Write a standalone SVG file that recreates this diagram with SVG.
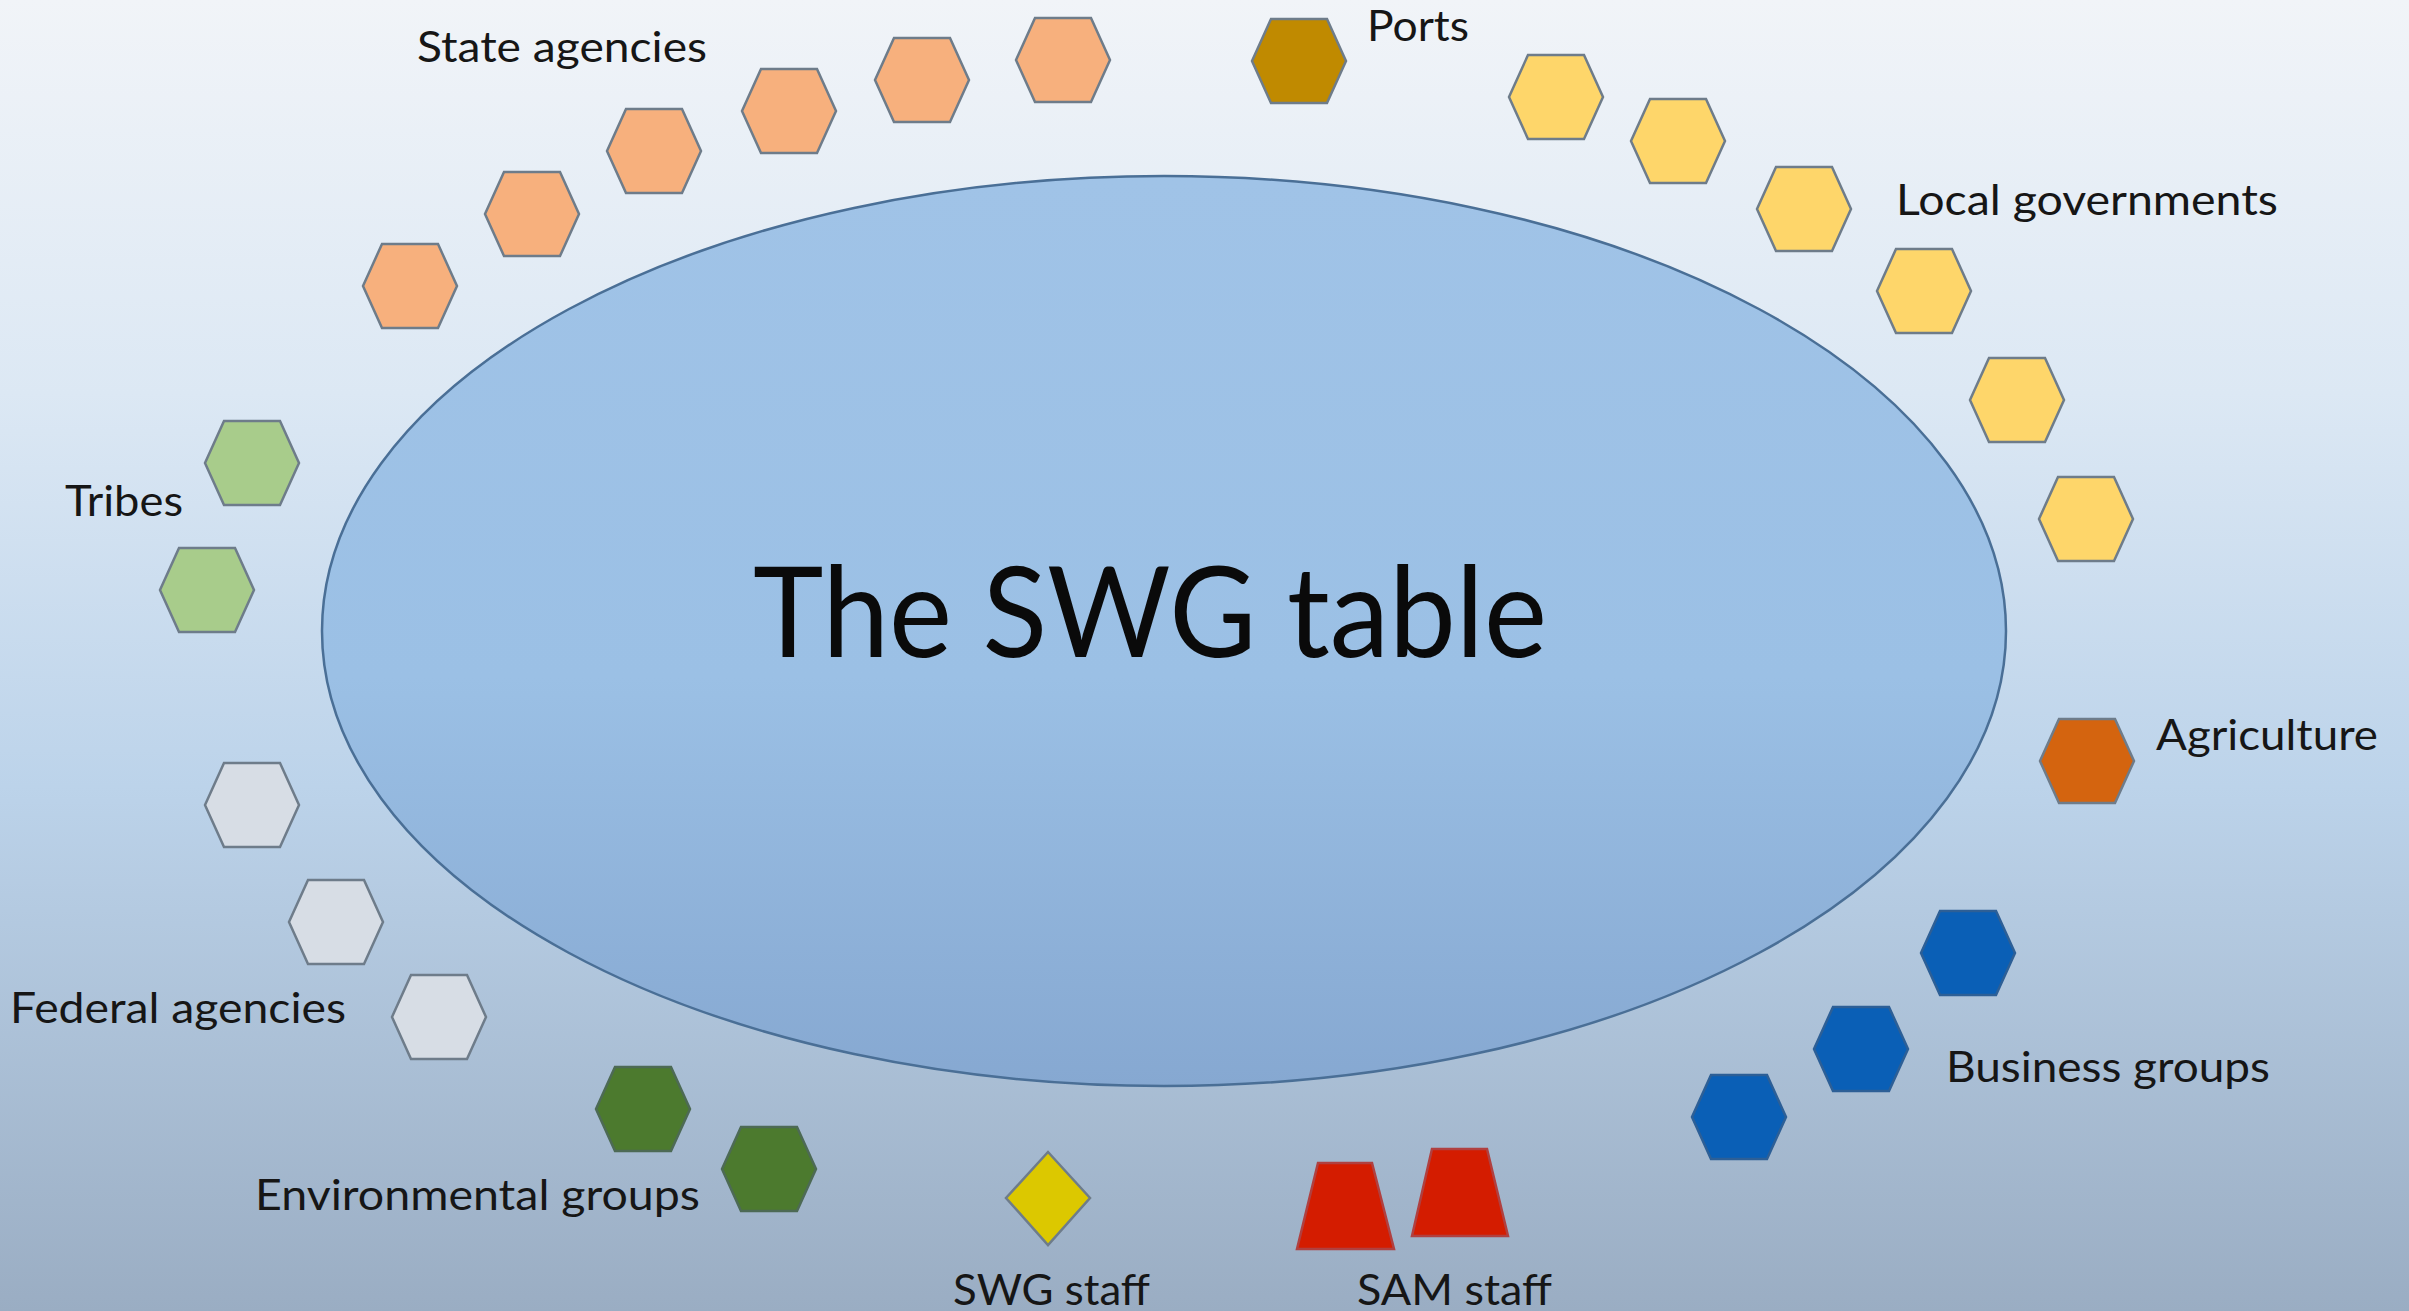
<svg xmlns="http://www.w3.org/2000/svg" xmlns:xlink="http://www.w3.org/1999/xlink" width="2409" height="1311" viewBox="0 0 2409 1311">
  <defs>
    <linearGradient id="bg" x1="0" y1="0" x2="0" y2="1">
      <stop offset="0" stop-color="#f1f4f8"/>
      <stop offset="0.3" stop-color="#dce8f4"/>
      <stop offset="0.6" stop-color="#bcd3ea"/>
      <stop offset="1" stop-color="#9aadc3"/>
    </linearGradient>
    <linearGradient id="table" x1="0" y1="0" x2="0" y2="1">
      <stop offset="0" stop-color="#a0c3e7"/>
      <stop offset="0.55" stop-color="#9bc0e5"/>
      <stop offset="1" stop-color="#86a8d1"/>
    </linearGradient>
    <polygon id="hex" points="-47,0 -28,-42 28,-42 47,0 28,42 -28,42"/>
    <style>
      .lbl { font-family: Lato, "Liberation Sans", Arial, sans-serif; font-size: 42px; fill: #161616; }
      .title { font-family: Lato, "Liberation Sans", Arial, sans-serif; font-size: 126px; fill: #0a0a0a; }
      .shape { stroke: #6e7c8a; stroke-width: 2.5; stroke-linejoin: miter; }
      .state { fill: #f7b07d; }
      .ports { fill: #c08a00; }
      .local { fill: #fed66a; }
      .agri { fill: #d4640f; }
      .biz { fill: #0a5fb6; stroke: #2d5f96; }
      .tribe { fill: #a8cc8b; }
      .fed { fill: #d7dde5; }
      .env { fill: #4c7a2e; stroke: #4d6a55; }
      .swg { fill: #dcc800; }
      .sam { fill: #d41c00; stroke: #b04040; }
    </style>
  </defs>

  <rect x="0" y="0" width="2409" height="1311" fill="url(#bg)"/>

  <g id="connectors"></g>

  <g id="table-node">
    <ellipse cx="1164" cy="631" rx="842" ry="455" fill="url(#table)" stroke="#4a6f96" stroke-width="2.5"/>
    <text class="title" x="753" y="657" textLength="794" lengthAdjust="spacingAndGlyphs">The SWG table</text>
  </g>

  <g id="state-agencies">
    <use href="#hex" class="shape state" x="410" y="286"/>
    <use href="#hex" class="shape state" x="532" y="214"/>
    <use href="#hex" class="shape state" x="654" y="151"/>
    <use href="#hex" class="shape state" x="789" y="111"/>
    <use href="#hex" class="shape state" x="922" y="80"/>
    <use href="#hex" class="shape state" x="1063" y="60"/>
    <text class="lbl" x="417" y="62" textLength="290" lengthAdjust="spacingAndGlyphs">State agencies</text>
  </g>

  <g id="ports">
    <use href="#hex" class="shape ports" x="1299" y="61"/>
    <text class="lbl" x="1367" y="41" textLength="102" lengthAdjust="spacingAndGlyphs">Ports</text>
  </g>

  <g id="local-governments">
    <use href="#hex" class="shape local" x="1556" y="97"/>
    <use href="#hex" class="shape local" x="1678" y="141"/>
    <use href="#hex" class="shape local" x="1804" y="209"/>
    <use href="#hex" class="shape local" x="1924" y="291"/>
    <use href="#hex" class="shape local" x="2017" y="400"/>
    <use href="#hex" class="shape local" x="2086" y="519"/>
    <text class="lbl" x="1896" y="215" textLength="382" lengthAdjust="spacingAndGlyphs">Local governments</text>
  </g>

  <g id="agriculture">
    <use href="#hex" class="shape agri" x="2087" y="761"/>
    <text class="lbl" x="2156" y="750" textLength="222" lengthAdjust="spacingAndGlyphs">Agriculture</text>
  </g>

  <g id="business-groups">
    <use href="#hex" class="shape biz" x="1968" y="953"/>
    <use href="#hex" class="shape biz" x="1861" y="1049"/>
    <use href="#hex" class="shape biz" x="1739" y="1117"/>
    <text class="lbl" x="1946" y="1082" textLength="324" lengthAdjust="spacingAndGlyphs">Business groups</text>
  </g>

  <g id="tribes">
    <use href="#hex" class="shape tribe" x="252" y="463"/>
    <use href="#hex" class="shape tribe" x="207" y="590"/>
    <text class="lbl" x="65" y="516" textLength="118" lengthAdjust="spacingAndGlyphs">Tribes</text>
  </g>

  <g id="federal-agencies">
    <use href="#hex" class="shape fed" x="252" y="805"/>
    <use href="#hex" class="shape fed" x="336" y="922"/>
    <use href="#hex" class="shape fed" x="439" y="1017"/>
    <text class="lbl" x="10" y="1023" textLength="336" lengthAdjust="spacingAndGlyphs">Federal agencies</text>
  </g>

  <g id="environmental-groups">
    <use href="#hex" class="shape env" x="643" y="1109"/>
    <use href="#hex" class="shape env" x="769" y="1169"/>
    <text class="lbl" x="255" y="1210" textLength="445" lengthAdjust="spacingAndGlyphs">Environmental groups</text>
  </g>

  <g id="swg-staff">
    <polygon class="shape swg" points="1048,1152 1090,1198 1048,1245 1006,1198"/>
    <text class="lbl" x="953" y="1305" textLength="197" lengthAdjust="spacingAndGlyphs">SWG staff</text>
  </g>

  <g id="sam-staff">
    <polygon class="shape sam" points="1318,1163 1372,1163 1394,1249 1297,1249"/>
    <polygon class="shape sam" points="1432,1149 1487,1149 1508,1236 1412,1236"/>
    <text class="lbl" x="1357" y="1305" textLength="195" lengthAdjust="spacingAndGlyphs">SAM staff</text>
  </g>
</svg>
